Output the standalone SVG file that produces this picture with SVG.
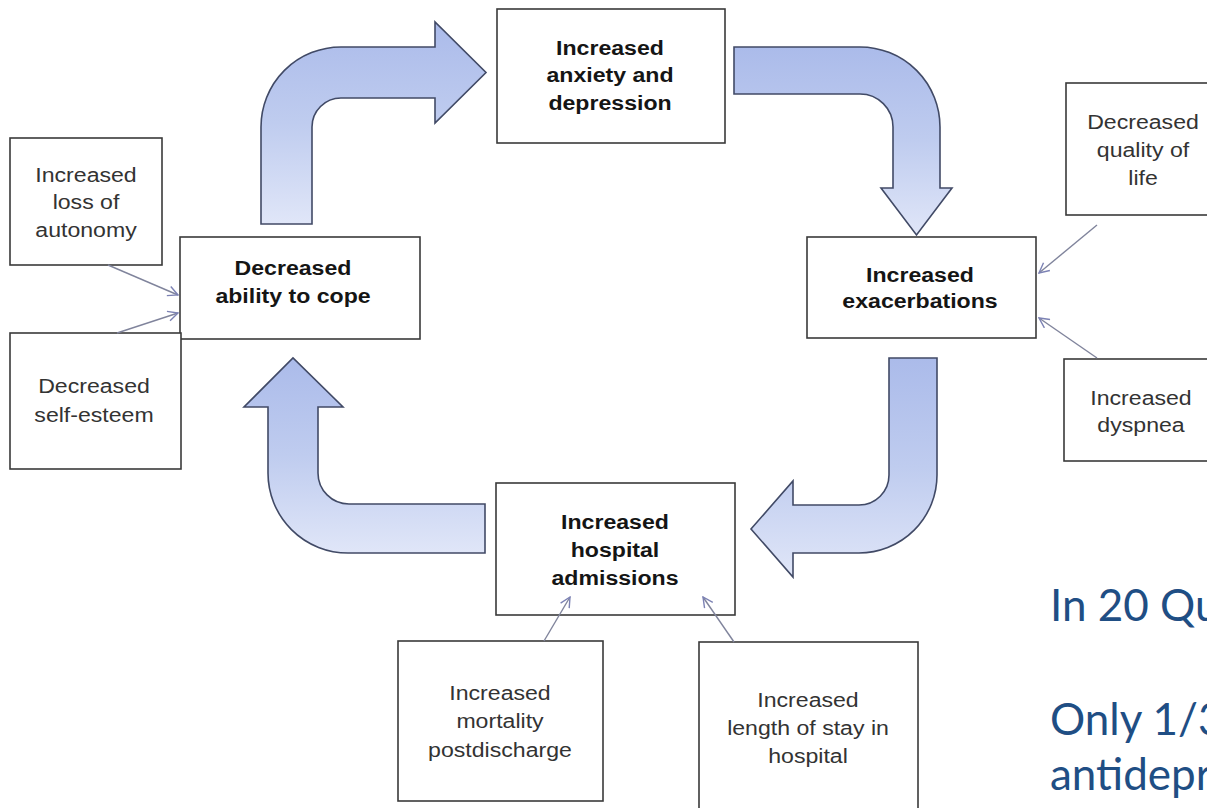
<svg xmlns="http://www.w3.org/2000/svg" width="1207" height="808" viewBox="0 0 1207 808">
<style>
.box{fill:#ffffff;stroke:#3a3a3a;stroke-width:1.6}
.b{font-family:"Liberation Sans",Arial,sans-serif;font-weight:bold;font-size:21px;fill:#151515;text-anchor:middle}
.r{font-family:"Liberation Sans",Arial,sans-serif;font-size:21px;fill:#333333;text-anchor:middle}
.big{fill:url(#gr);stroke:#414a66;stroke-width:1.6;stroke-linejoin:miter}
.thin{fill:none;stroke:#80849c;stroke-width:1.4;marker-end:url(#ah)}
.side{font-family:Lato,"Open Sans",sans-serif;font-size:44px;fill:#1f4e84}
</style>
<defs>
<linearGradient id="gr" x1="0" y1="0" x2="0" y2="1">
<stop offset="0" stop-color="#abbbea"/>
<stop offset="0.5" stop-color="#bfccef"/>
<stop offset="1" stop-color="#e0e6f8"/>
</linearGradient>
<marker id="ah" viewBox="0 0 12 12" refX="11" refY="6" markerWidth="12" markerHeight="12" markerUnits="userSpaceOnUse" orient="auto">
<path d="M1,1 L11,6 L1,11" fill="none" stroke="#7c82b4" stroke-width="1.4"/>
</marker>
</defs>
<rect width="1207" height="808" fill="#ffffff"/>

<g id="anxiety">
<rect class="box" x="497" y="9" width="228" height="134"/>
<text class="b" transform="translate(610,55) scale(1.1,1)"><tspan x="0" y="0">Increased</tspan><tspan x="0" y="27.5">anxiety and</tspan><tspan x="0" y="55">depression</tspan></text>
</g>

<g id="exacerbations">
<rect class="box" x="807" y="237" width="229" height="101"/>
<text class="b" transform="translate(920,282) scale(1.1,1)"><tspan x="0" y="0">Increased</tspan><tspan x="0" y="26.5">exacerbations</tspan></text>
</g>

<g id="admissions">
<rect class="box" x="496" y="483" width="239" height="132"/>
<text class="b" transform="translate(615,529) scale(1.1,1)"><tspan x="0" y="0">Increased</tspan><tspan x="0" y="28">hospital</tspan><tspan x="0" y="56">admissions</tspan></text>
</g>

<g id="cope">
<rect class="box" x="180" y="237" width="240" height="102"/>
<text class="b" transform="translate(293,275) scale(1.1,1)"><tspan x="0" y="0">Decreased</tspan><tspan x="0" y="28">ability to cope</tspan></text>
</g>

<g id="autonomy">
<rect class="box" x="10" y="138" width="152" height="127"/>
<text class="r" transform="translate(86,182) scale(1.1,1)"><tspan x="0" y="0">Increased</tspan><tspan x="0" y="27.5">loss of</tspan><tspan x="0" y="55">autonomy</tspan></text>
</g>

<g id="selfesteem">
<rect class="box" x="10" y="333" width="171" height="136"/>
<text class="r" transform="translate(94,393) scale(1.1,1)"><tspan x="0" y="0">Decreased</tspan><tspan x="0" y="29">self-esteem</tspan></text>
</g>

<g id="quality">
<rect class="box" x="1066" y="83" width="160" height="132"/>
<text class="r" transform="translate(1143,129) scale(1.1,1)"><tspan x="0" y="0">Decreased</tspan><tspan x="0" y="28">quality of</tspan><tspan x="0" y="56">life</tspan></text>
</g>

<g id="dyspnea">
<rect class="box" x="1064" y="359" width="160" height="102"/>
<text class="r" transform="translate(1141,405) scale(1.1,1)"><tspan x="0" y="0">Increased</tspan><tspan x="0" y="27">dyspnea</tspan></text>
</g>

<g id="mortality">
<rect class="box" x="398" y="641" width="205" height="160"/>
<text class="r" transform="translate(500,700) scale(1.1,1)"><tspan x="0" y="0">Increased</tspan><tspan x="0" y="28.5">mortality</tspan><tspan x="0" y="57">postdischarge</tspan></text>
</g>

<g id="lengthofstay">
<rect class="box" x="699" y="642" width="219" height="175"/>
<text class="r" transform="translate(808,707) scale(1.1,1)"><tspan x="0" y="0">Increased</tspan><tspan x="0" y="28">length of stay in</tspan><tspan x="0" y="56">hospital</tspan></text>
</g>

<g id="connectors">
<path class="big" d="M261,224 L261,127 A80,80 0 0 1 341,47 L435,47 L435,22 L486,72.5 L435,123 L435,98 L341,98 A29,29 0 0 0 312,127 L312,224 Z"/>
<path class="big" d="M734,47 L860,47 A80,80 0 0 1 940,127 L940,188 L952,188 L916.5,235 L881,188 L893,188 L893,127 A33,33 0 0 0 860,94 L734,94 Z"/>
<path class="big" d="M889,358 L937,358 L937,475 A78,78 0 0 1 859,553 L793,553 L793,577 L751,529 L793,481 L793,505 L859,505 A30,30 0 0 0 889,475 Z"/>
<path class="big" d="M485,504 L485,553 L348,553 A80,80 0 0 1 268,473 L268,407 L244,407 L293,358 L343,407 L318,407 L318,473 A31,31 0 0 0 349,504 Z"/>
<line class="thin" x1="108" y1="265" x2="178" y2="295"/>
<line class="thin" x1="117" y1="333" x2="178" y2="313"/>
<line class="thin" x1="1097" y1="225" x2="1039" y2="273"/>
<line class="thin" x1="1097" y1="358" x2="1039" y2="318"/>
<line class="thin" x1="544" y1="641" x2="570" y2="597"/>
<line class="thin" x1="734" y1="642" x2="703" y2="597"/>
</g>

<g id="sidetext">
<text class="side" x="1050" y="621">In 20 Qu</text>
<text class="side" x="1050" y="735">Only 1/3</text>
<text class="side" x="1050" y="790">antidepr</text>
</g>
</svg>
